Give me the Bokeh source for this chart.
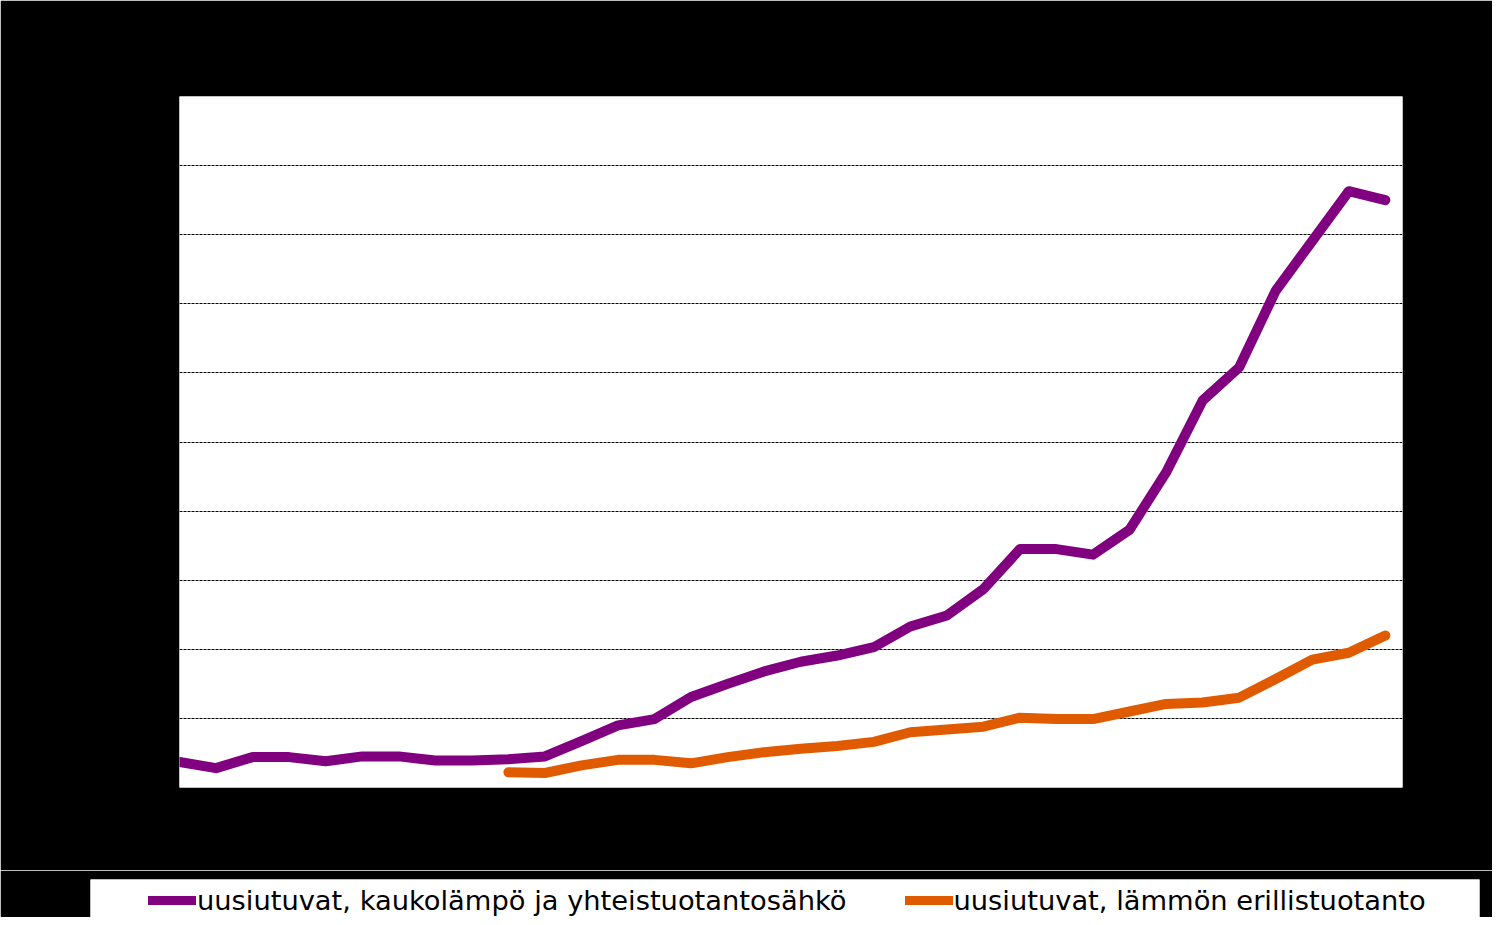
from bokeh.plotting import figure
from bokeh.models import Range1d, Legend, LegendItem
from bokeh.layouts import column
from bokeh.embed import file_html
from bokeh.resources import INLINE

years = list(range(1980, 2014))
chp_renewables = [0.37, 0.28, 0.44, 0.44, 0.38, 0.45, 0.45, 0.39, 0.39, 0.41,
                  0.45, 0.67, 0.90, 0.99, 1.31, 1.50, 1.68, 1.82, 1.91, 2.03,
                  2.33, 2.49, 2.87, 3.45, 3.45, 3.37, 3.73, 4.56, 5.60, 6.08,
                  7.19, 7.91, 8.63, 8.50]
sep_years = list(range(1989, 2014))
sep_renewables = [0.22, 0.21, 0.32, 0.40, 0.40, 0.35, 0.44, 0.51, 0.56, 0.60,
                  0.66, 0.80, 0.84, 0.88, 1.01, 0.99, 0.99, 1.10, 1.21, 1.23,
                  1.30, 1.57, 1.85, 1.95, 2.20]
labels = ["uusiutuvat, kaukolämpö ja yhteistuotantosähkö",
          "uusiutuvat, lämmön erillistuotanto"]
colors = ["#800080", "#E05A00"]

p = figure(width=1492, height=870, output_backend="svg", toolbar_location=None,
           x_range=Range1d(1980, 2013.47), y_range=Range1d(0, 10),
           min_border_left=179, min_border_right=90, min_border_top=96,
           min_border_bottom=83)
p.frame_align = False
p.background_fill_color = "white"
p.border_fill_color = "black"
p.outline_line_color = None
p.xaxis.visible = False
p.yaxis.visible = False
p.xgrid.grid_line_color = None
p.ygrid.ticker = list(range(1, 10))
p.ygrid.grid_line_color = "black"
p.ygrid.grid_line_dash = "3 1"
p.ygrid.grid_line_width = 1

p.line(years, chp_renewables, line_color=colors[0], line_width=10,
       line_cap="round", line_join="round")
p.line(sep_years, sep_renewables, line_color=colors[1], line_width=10,
       line_cap="round", line_join="round")

# legend strip (same series, drawn outside its visible range; only the legend shows)
leg = figure(width=1492, height=47, output_backend="svg", toolbar_location=None,
             x_range=Range1d(1980, 2013.47), y_range=Range1d(-100, -99),
             min_border_left=90, min_border_right=13, min_border_top=9,
             min_border_bottom=0)
leg.frame_align = False
leg.background_fill_color = "white"
leg.border_fill_color = "black"
leg.outline_line_color = None
leg.xaxis.visible = False
leg.yaxis.visible = False
leg.grid.visible = False
l1 = leg.line(years, chp_renewables, line_color=colors[0], line_width=9,
              line_cap="round")
l2 = leg.line(sep_years, sep_renewables, line_color=colors[1], line_width=9,
              line_cap="round")
legend = Legend(items=[LegendItem(label=labels[0], renderers=[l1]),
                       LegendItem(label=labels[1], renderers=[l2])],
                orientation="horizontal", location=(58, 1),
                label_text_font="DejaVu Sans", label_text_font_size="27.3px",
                label_text_color="black", glyph_width=48, glyph_height=32,
                label_height=32, label_standoff=1, spacing=58, padding=0,
                margin=0, background_fill_alpha=0, border_line_color=None)
leg.add_layout(legend)

layout = column(p, leg, spacing=0)
open("out.html", "w").write(file_html(layout, INLINE))
